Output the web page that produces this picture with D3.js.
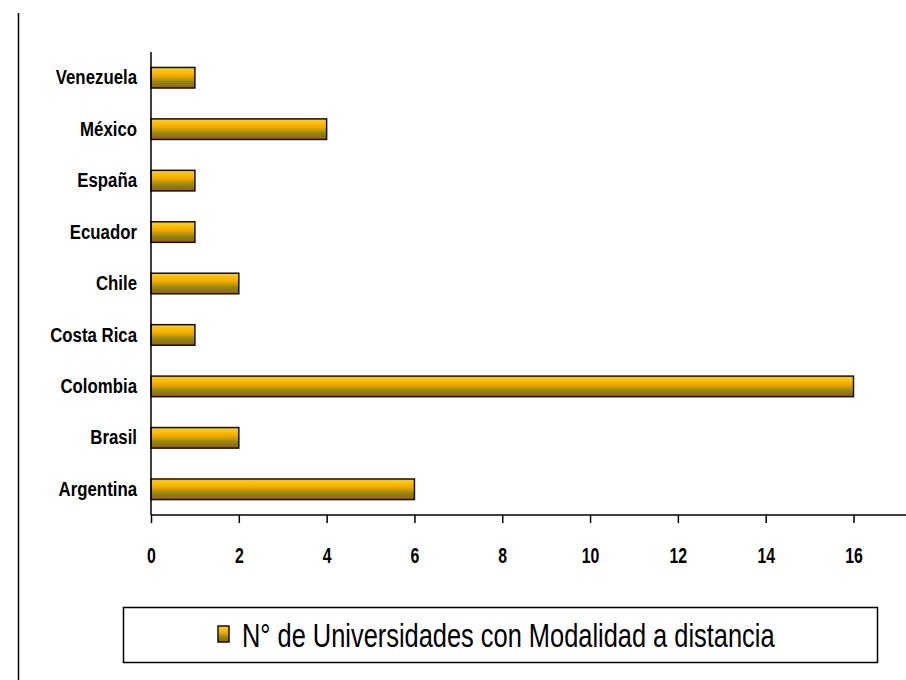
<!DOCTYPE html>
<html>
<head>
<meta charset="utf-8">
<script src="https://cdn.jsdelivr.net/npm/d3@7"></script>
<style>
  body { margin: 0; background: #fff; }
</style>
</head>
<body>
<div id="chart"></div>
<script>
// Data
const countries = ["Venezuela", "México", "España", "Ecuador", "Chile", "Costa Rica", "Colombia", "Brasil", "Argentina"];
const universities = [1, 4, 1, 1, 2, 1, 16, 2, 6];
const xTicks = [0, 2, 4, 6, 8, 10, 12, 14, 16];
const seriesLabel = "N° de Universidades con Modalidad a distancia";

const W = 906, H = 680;
const margin = { top: 52, right: 0, bottom: 165, left: 151 };
const boldFont = "'Liberation Sans', Arial, sans-serif";

const svg = d3.select("#chart").append("svg")
    .attr("width", W).attr("height", H);

// gradient for bars
const defs = svg.append("defs");
const grad = defs.append("linearGradient").attr("id", "barGrad")
    .attr("x1", 0).attr("y1", 0).attr("x2", 0).attr("y2", 1);
[[0, "#e8b0a0"], [0.1, "#ffcc00"], [0.42, "#f2a600"], [0.7, "#8c8a12"], [1, "#a8560e"]]
    .forEach(([o, c]) => grad.append("stop").attr("offset", o).attr("stop-color", c));

// left frame line
svg.append("line").attr("x1", 18.5).attr("x2", 18.5).attr("y1", 13).attr("y2", H)
    .attr("stroke", "#000").attr("stroke-width", 1.5);

const x = d3.scaleLinear().domain([0, 16]).range([margin.left, 853.5]);
const y = d3.scaleBand().domain(countries).range([margin.top, H - margin.bottom]).paddingInner(0.6).paddingOuter(0.3);

// bars
svg.append("g").selectAll("rect").data(countries).enter().append("rect")
    .attr("x", x(0))
    .attr("y", d => y(d))
    .attr("width", (d, i) => x(universities[i]) - x(0))
    .attr("height", y.bandwidth())
    .attr("fill", "url(#barGrad)")
    .attr("stroke", "#111").attr("stroke-width", 1.5);

// y axis (narrow bold labels, squeezed horizontally)
const sy = 0.82;
const yAxis = svg.append("g").attr("transform", `translate(${margin.left},0)`)
    .call(d3.axisLeft(y).tickSize(0).tickPadding(14));
yAxis.select(".domain").attr("stroke", "#000").attr("stroke-width", 1.5)
    .attr("d", `M0,${margin.top}V${H - margin.bottom}`);
yAxis.selectAll(".tick text")
    .attr("x", -14 / sy)
    .attr("transform", `scale(${sy},1)`)
    .style("font-family", boldFont).style("font-weight", "bold")
    .style("font-size", "20.5px").attr("fill", "#000");

// x axis
const sx = 0.72;
const xAxis = svg.append("g").attr("transform", `translate(0,${H - margin.bottom})`)
    .call(d3.axisBottom(x).tickValues(xTicks).tickSize(8).tickPadding(24));
xAxis.select(".domain").attr("stroke", "#000").attr("stroke-width", 1.5)
    .attr("d", `M${margin.left},0H${W}`);
xAxis.selectAll(".tick line").attr("stroke", "#000").attr("stroke-width", 1.5);
xAxis.selectAll(".tick text")
    .attr("transform", `scale(${sx},1)`)
    .style("font-family", boldFont).style("font-weight", "bold")
    .style("font-size", "22px").attr("fill", "#000");

// legend
const sl = 0.77;
const legend = svg.append("g");
legend.append("rect").attr("x", 123.5).attr("y", 607.5).attr("width", 754).attr("height", 55)
    .attr("fill", "#fff").attr("stroke", "#000").attr("stroke-width", 1.5);
legend.append("rect").attr("x", 218).attr("y", 626).attr("width", 11).attr("height", 16)
    .attr("fill", "url(#barGrad)").attr("stroke", "#111").attr("stroke-width", 1.5);
legend.append("text").attr("x", 242 / sl).attr("y", 647)
    .attr("transform", `scale(${sl},1)`)
    .style("font-family", "'Liberation Sans', Arial, sans-serif")
    .style("font-size", "33px").attr("fill", "#000")
    .text(seriesLabel);
</script>
</body>
</html>
